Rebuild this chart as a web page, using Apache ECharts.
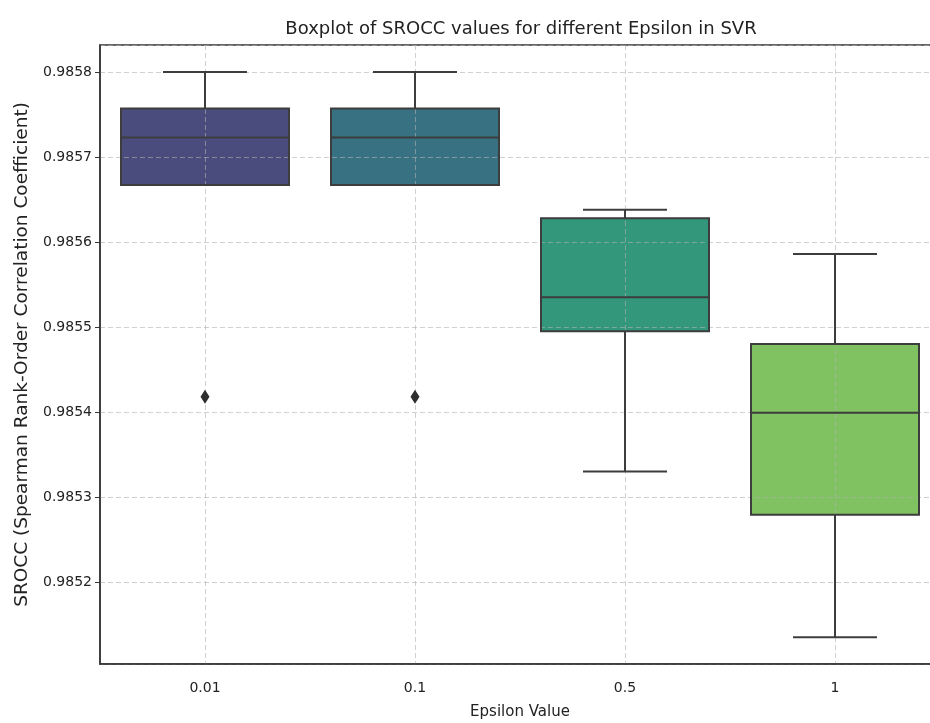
<!DOCTYPE html>
<html>
<head>
<meta charset="utf-8">
<title>Boxplot of SROCC values</title>
<script src="https://cdn.jsdelivr.net/npm/echarts@6/dist/echarts.min.js"></script>
<style>
  html, body { margin: 0; padding: 0; background: #fff; }
  #chart { width: 930px; height: 723px; }
</style>
</head>
<body>
<div id="chart"></div>
<script>
// epsilon values on the x axis
var categories = ['0.01', '0.1', '0.5', '1'];
// box stats
var whiskerLow  = [0.985667, 0.985667, 0.985330, 0.985135];
var q1          = [0.985667, 0.985667, 0.985495, 0.985279];
var median      = [0.985723, 0.985723, 0.985535, 0.985399];
var q3          = [0.985757, 0.985757, 0.985628, 0.985480];
var whiskerHigh = [0.985800, 0.985800, 0.985638, 0.985586];
// outliers: [category index, value]
var outliers = [[0, 0.985418], [1, 0.985418]];

var boxColors = ['#4a4c7e', '#377182', '#33977c', '#80c161'];
var edgeColor = '#3d3d3d';
var gridColor = 'rgba(176,176,176,0.6)';
var font = 'DejaVu Sans';

var boxData = categories.map(function (c, i) {
    return [i, whiskerLow[i], q1[i], median[i], q3[i], whiskerHigh[i]];
});

function boxPoints(api) {
    var i = api.value(0);
    return {
        i: i,
        band: api.size([1, 0])[0],
        low: api.coord([i, api.value(1)]),
        q1: api.coord([i, api.value(2)]),
        med: api.coord([i, api.value(3)]),
        q3: api.coord([i, api.value(4)]),
        high: api.coord([i, api.value(5)])
    };
}

// fill only, drawn under the grid lines
function renderFill(params, api) {
    var p = boxPoints(api);
    var half = p.band * 0.4;
    var x = p.low[0];
    return {
        type: 'rect',
        shape: {x: x - half, y: p.q3[1], width: half * 2, height: p.q1[1] - p.q3[1]},
        style: {fill: boxColors[p.i]}
    };
}

// outlines, whiskers and median, drawn over the grid lines
function renderLines(params, api) {
    var p = boxPoints(api);
    var half = p.band * 0.4;
    var cap = p.band * 0.2;
    var x = p.low[0];
    var lineStyle = {stroke: edgeColor, lineWidth: 2};
    return {
        type: 'group',
        children: [
            {type: 'line', shape: {x1: x, y1: p.q3[1], x2: x, y2: p.high[1]}, style: lineStyle},
            {type: 'line', shape: {x1: x, y1: p.q1[1], x2: x, y2: p.low[1]}, style: lineStyle},
            {type: 'line', shape: {x1: x - cap, y1: p.high[1], x2: x + cap, y2: p.high[1]}, style: lineStyle},
            {type: 'line', shape: {x1: x - cap, y1: p.low[1], x2: x + cap, y2: p.low[1]}, style: lineStyle},
            {
                type: 'rect',
                shape: {x: x - half, y: p.q3[1], width: half * 2, height: p.q1[1] - p.q3[1]},
                style: {fill: null, stroke: edgeColor, lineWidth: 2}
            },
            {type: 'line', shape: {x1: x - half, y1: p.med[1], x2: x + half, y2: p.med[1]}, style: lineStyle}
        ]
    };
}

var myChart = echarts.init(document.getElementById('chart'));
myChart.setOption({
    backgroundColor: '#ffffff',
    animation: false,
    title: {
        text: 'Boxplot of SROCC values for different Epsilon in SVR',
        left: 516,
        textAlign: 'center',
        top: 15,
        textStyle: {
            fontFamily: font,
            fontSize: 18,
            fontWeight: 'normal',
            color: '#222'
        }
    },
    grid: {
        left: 100,
        right: -10,
        top: 45,
        bottom: 59,
        show: true,
        borderColor: '#333',
        borderWidth: 1.5,
        outerBoundsMode: 'none'
    },
    xAxis: {
        type: 'category',
        data: categories,
        z: 5,
        name: 'Epsilon Value',
        nameLocation: 'middle',
        nameGap: 41,
        nameTextStyle: {fontFamily: font, fontSize: 15, color: '#222'},
        axisLine: {lineStyle: {color: '#333', width: 1.5}},
        axisTick: {alignWithLabel: true, length: 5, lineStyle: {color: '#333'}},
        axisLabel: {fontFamily: font, fontSize: 14, color: '#222', margin: 17},
        splitLine: {
            show: true,
            alignWithLabel: true,
            lineStyle: {color: gridColor, type: [5, 3], width: 1}
        }
    },
    yAxis: {
        type: 'value',
        min: 0.98510353,
        max: 0.98583176,
        splitNumber: 7,
        z: 5,
        name: 'SROCC (Spearman Rank-Order Correlation Coefficient)',
        nameLocation: 'middle',
        nameGap: 68,
        nameTextStyle: {fontFamily: font, fontSize: 18.5, color: '#222'},
        axisLine: {show: true, lineStyle: {color: '#333', width: 1.5}},
        axisTick: {show: true, length: 5, lineStyle: {color: '#333'}},
        axisLabel: {
            fontFamily: font,
            fontSize: 14,
            color: '#222',
            margin: 8,
            showMinLabel: false,
            showMaxLabel: false,
            formatter: function (v) { return v.toFixed(4); }
        },
        splitLine: {
            show: true,
            lineStyle: {color: gridColor, type: [5, 3], width: 1}
        }
    },
    series: [
        {
            name: 'box fill',
            type: 'custom',
            z: 1,
            renderItem: renderFill,
            encode: {x: 0, y: [1, 2, 3, 4, 5]},
            data: boxData
        },
        {
            name: 'box lines',
            type: 'custom',
            z: 10,
            renderItem: renderLines,
            encode: {x: 0, y: [1, 2, 3, 4, 5]},
            data: boxData
        },
        {
            name: 'outliers',
            type: 'scatter',
            z: 10,
            symbol: 'diamond',
            symbolSize: [9, 14],
            itemStyle: {color: '#2e2e2e', opacity: 1},
            data: outliers
        }
    ]
});
</script>
</body>
</html>
